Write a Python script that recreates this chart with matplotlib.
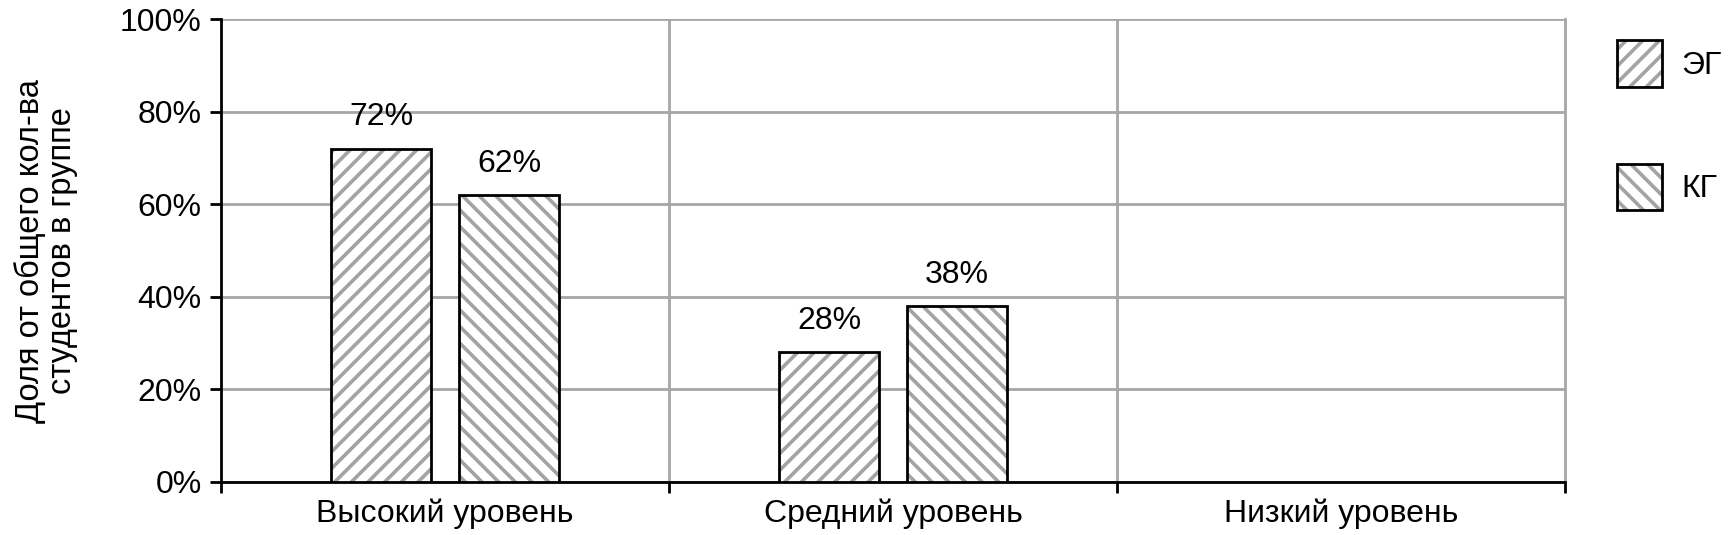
import matplotlib.pyplot as plt
import numpy as np
from matplotlib.patches import Patch
from matplotlib.ticker import FuncFormatter

plt.rcParams['font.family'] = ['Liberation Sans', 'DejaVu Sans']
plt.rcParams['hatch.linewidth'] = 2.6

categories = ['Высокий уровень', 'Средний уровень', 'Низкий уровень']
series_names = ['ЭГ', 'КГ']
eg_values = [72, 28, 0]
kg_values = [62, 38, 0]

hatch_gray = '#a3a3a3'
grid_gray = '#a6a6a6'
fs = 23

fig = plt.figure(figsize=(17.32, 5.35), dpi=100)
ax = fig.add_axes([0.1276, 0.0991, 0.9036 - 0.1276, 0.9636 - 0.0991])

x = np.arange(len(categories))
width = 0.225
offsets = [-0.143, 0.143]
hatches = ['//', '\\\\']

for vals, off, h in zip([eg_values, kg_values], offsets, hatches):
    xs = x + off
    for xi, v in zip(xs, vals):
        if v <= 0:
            continue
        # hatch in gray, outline in black
        ax.bar(xi, v, width, color='white', edgecolor=hatch_gray, hatch=h,
               linewidth=0, zorder=3)
        ax.bar(xi, v, width, fill=False, edgecolor='black', linewidth=2, zorder=4)
        ax.annotate(f'{v}%', (xi, v), xytext=(0, 12), textcoords='offset points',
                    ha='center', va='bottom', fontsize=fs)

ax.set_xlim(-0.5, len(categories) - 0.5)
ax.set_ylim(0, 100)
ax.set_yticks(np.arange(0, 101, 20))
ax.yaxis.set_major_formatter(FuncFormatter(lambda v, p: f'{int(v)}%'))

# category boundaries as ticks and vertical grid
bounds = np.arange(len(categories) + 1) - 0.5
ax.set_xticks(bounds)
ax.set_xticklabels([])
ax.set_xticks(x, minor=True)
ax.set_xticklabels(categories, minor=True, fontsize=fs)
ax.tick_params(axis='x', which='minor', length=0, pad=12)
ax.tick_params(axis='x', which='major', length=8, width=2, direction='out')
ax.tick_params(axis='y', length=8, width=2, direction='out', labelsize=fs, pad=6)

ax.grid(True, axis='y', color=grid_gray, linewidth=2, zorder=0)
for b in bounds[1:-1]:
    ax.axvline(b, color=grid_gray, linewidth=2, zorder=0)

ax.spines['top'].set_visible(False)
ax.spines['right'].set_color(grid_gray)
ax.spines['right'].set_linewidth(2)
ax.spines['left'].set_linewidth(2)
ax.spines['bottom'].set_linewidth(2)
ax.set_axisbelow(True)

ax.set_ylabel('Доля от общего кол-ва\nстудентов в группе', fontsize=fs + 0.5,
              labelpad=30, linespacing=1.05)

handles = [Patch(facecolor='white', edgecolor=hatch_gray, hatch=h, linewidth=0)
           for h in hatches]
handles = [(hd, Patch(fill=False, edgecolor='black', linewidth=2)) for hd in handles]
fig.legend(handles, series_names, loc='upper left',
           bbox_to_anchor=(1617 / 1732, 1 - 40 / 535), frameon=False,
           fontsize=fs, handlelength=1.4, handleheight=1.88,
           labelspacing=2.4, handletextpad=0.6, borderpad=0, borderaxespad=0)

fig.savefig('out.png', dpi=100)
